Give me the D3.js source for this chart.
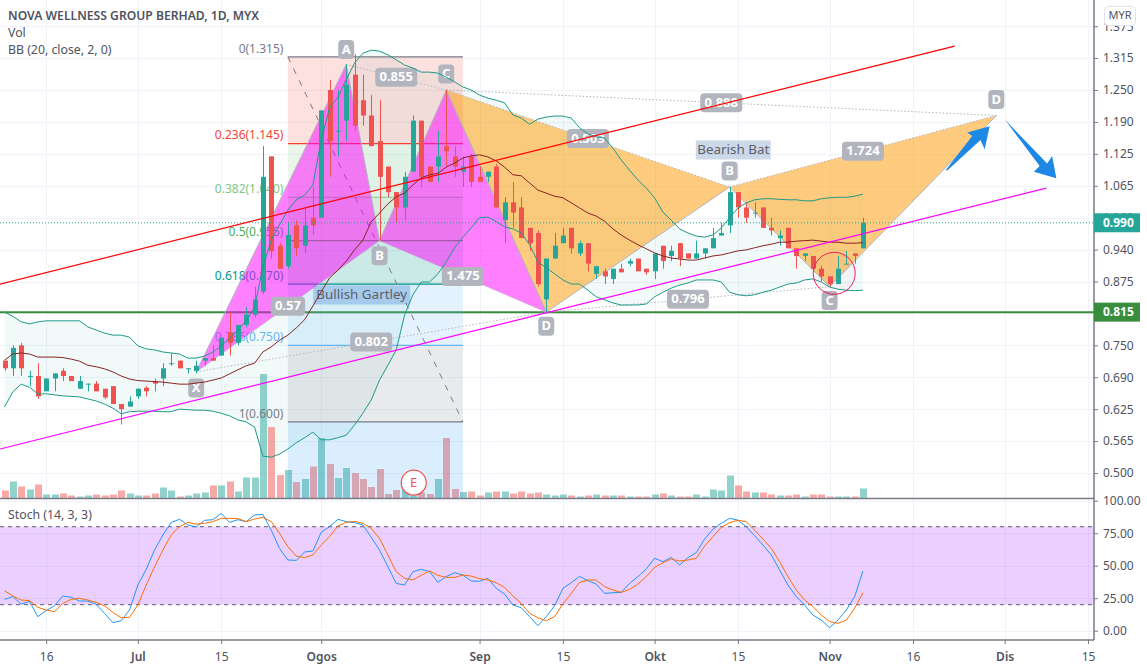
<!DOCTYPE html>
<html>
<head>
<meta charset="utf-8">
<script src="https://cdn.jsdelivr.net/npm/d3@7"></script>
<style>
  html, body { margin: 0; padding: 0; background: #fff; }
  svg { display: block; }
  text { font-family: "Noto Sans", "Open Sans", sans-serif; }
</style>
</head>
<body>
<script>
// Daily bars, one entry per trading day.
const open = [.72,.705,.75,.69,.69,.66,.685,.70,.69,.665,
  .675,.675,.665,.67,.635,.63,.65,.667,.68,.685,
  .715,.72,.705,.70,.72,.725,.73,.775,.755,.79,
  .81,.855,1.12,.945,.905,.985,.945,1.0,1.0,1.25,
  1.17,1.19,1.28,1.23,1.20,1.15,1.10,1.05,1.02,1.09,
  1.19,1.10,1.10,1.14,1.12,1.09,1.12,1.08,1.08,1.10,
  .995,1.03,1.02,.98,.97,.84,.92,.95,.98,.93,
  .95,.89,.895,.88,.90,.91,.92,.90,.895,.945,
  .925,.95,.93,.92,.93,.94,.965,.985,1.05,1.02,
  1.01,1.02,.98,.96,.98,.94,.925,.925,.90,.885,
  .87,.91,.93,.94];
const high = [.72,.75,.755,.70,.715,.685,.695,.705,.69,.69,
  .675,.68,.665,.67,.635,.65,.665,.67,.685,.715,
  .735,.72,.705,.72,.725,.75,.765,.815,.79,.825,
  .865,1.14,1.12,.95,.99,.995,1.02,1.06,1.21,1.27,
  1.25,1.30,1.32,1.28,1.24,1.23,1.10,1.05,1.09,1.20,
  1.19,1.10,1.17,1.25,1.14,1.12,1.125,1.10,1.09,1.105,
  1.04,1.07,1.04,.98,.975,.92,.97,.98,.98,.955,
  .95,.905,.90,.90,.91,.92,.92,.90,.93,.945,
  .945,.95,.93,.955,.94,.98,.99,1.06,1.05,1.03,
  1.03,1.02,1.0,.975,.98,.94,.93,.925,.905,.885,
  .925,.935,.93,1.0];
const low = [.70,.69,.69,.67,.645,.66,.66,.68,.68,.665,
  .66,.66,.645,.635,.595,.63,.645,.65,.66,.67,
  .71,.705,.695,.695,.71,.72,.73,.73,.75,.785,
  .805,.85,.92,.90,.90,.925,.93,.966,1.0,1.08,
  1.12,1.15,1.17,1.18,1.14,.955,1.04,.99,.995,1.09,
  1.06,1.07,1.07,1.10,1.08,1.06,1.06,1.07,1.07,1.02,
  .95,.98,.96,.935,.865,.815,.92,.95,.93,.925,
  .895,.88,.87,.87,.893,.905,.895,.888,.88,.90,
  .915,.905,.92,.92,.92,.94,.965,.97,1.0,.99,
  1.0,.98,.965,.945,.94,.90,.915,.90,.875,.865,
  .87,.91,.91,.94];
const close = [.705,.745,.705,.69,.65,.685,.695,.69,.68,.68,
  .675,.66,.648,.635,.625,.64,.665,.66,.675,.705,
  .715,.705,.705,.71,.725,.72,.765,.755,.79,.81,
  .84,1.08,.934,.90,.966,.94,.985,.985,1.21,1.15,
  1.17,1.26,1.18,1.20,1.14,1.08,1.05,1.02,1.08,1.19,
  1.08,1.07,1.12,1.13,1.10,1.10,1.07,1.07,1.09,1.02,
  1.03,1.01,.96,.95,.87,.92,.945,.965,.94,.95,
  .91,.905,.885,.90,.893,.915,.895,.893,.93,.915,
  .935,.92,.92,.93,.94,.96,.97,1.05,1.02,1.0,
  1.01,.98,.975,.965,.94,.925,.93,.90,.885,.87,
  .90,.91,.925,.99];
const volume = [8,17,12,9,14,4,4,5,3,2,
  3,4,3,4,8,5,3,3,5,11,
  8,2,3,5,6,13,13,17,7,21,
  21,124.5,71.5,23.5,28.5,16.5,19.5,32,60.5,34.5,
  20.5,30.5,25.5,19.5,11.5,29.5,4.5,8.5,10,3,
  6,4.5,19.5,60.5,9.5,6.5,7,3,6,7,
  7,5,7,5,6,4,3,4,3,2,
  3,4,3,3,3,2,2,2,4,5,
  3,2,2,4,2,9,8,23,13,7,
  6,6,4,3,3,4,2,4,4,2,
  2,2,2,10];

// Bollinger bands (20, close, 2, 0)
const bbUpper = [.815,.807,.796,.792,.796,.798,.798,.798,.798,.798,
  .786,.780,.774,.770,.770,.766,.749,.743,.741,.737,
  .735,.733,.725,.725,.729,.737,.749,.764,.780,.798,
  .825,.902,.956,.986,1.015,1.035,1.044,1.064,1.152,1.215,
  1.236,1.270,1.303,1.322,1.328,1.326,1.319,1.309,1.299,1.293,
  1.285,1.285,1.283,1.275,1.266,1.256,1.250,1.240,1.234,1.230,
  1.225,1.201,1.195,1.183,1.193,1.197,1.199,1.199,1.195,1.176,
  1.164,1.158,1.156,1.136,1.113,1.093,1.074,1.058,1.039,1.011,
  .995,.978,.970,.964,.962,.966,.980,1.0,1.019,1.029,
  1.035,1.037,1.037,1.036,1.035,1.035,1.033,1.033,1.037,1.039,
  1.040,1.040,1.042,1.046];
const bbBasis = [.721,.733,.735,.733,.727,.727,.727,.726,.723,.719,
  .711,.708,.704,.698,.690,.684,.681,.680,.679,.678,
  .676,.674,.674,.676,.678,.682,.686,.694,.702,.710,
  .715,.737,.747,.760,.770,.784,.800,.827,.855,.882,
  .897,.915,.937,.956,.992,1.009,1.027,1.041,1.048,1.064,
  1.078,1.084,1.087,1.099,1.107,1.117,1.121,1.123,1.119,1.111,
  1.099,1.084,1.082,1.068,1.054,1.048,1.042,1.039,1.029,1.019,
  1.009,1.003,.993,.978,.966,.956,.947,.939,.931,.925,
  .921,.919,.917,.917,.921,.925,.927,.931,.935,.937,
  .941,.945,.948,.952,.952,.954,.955,.956,.954,.952,
  .952,.950,.950,.951];
const bbLower = [.629,.659,.674,.668,.655,.655,.653,.651,.650,.649,
  .645,.641,.635,.627,.616,.620,.621,.621,.621,.620,
  .620,.625,.624,.623,.623,.621,.617,.612,.604,.600,
  .590,.533,.531,.537,.547,.559,.569,.580,.565,.565,
  .569,.574,.594,.617,.643,.682,.711,.741,.809,.849,
  .874,.874,.890,.913,.941,.962,.980,1.0,1.001,.992,
  .982,.978,.970,.947,.913,.902,.890,.878,.870,.870,
  .858,.845,.839,.833,.829,.829,.829,.831,.845,.854,
  .862,.868,.872,.878,.878,.878,.874,.854,.849,.847,
  .849,.854,.858,.864,.870,.872,.878,.880,.874,.864,
  .860,.858,.857,.858];

// Stoch (14, 3, 3)
const stochK = [24.1,26.2,20.5,22.6,10.8,15.4,19.2,26.7,25.7,22.8,
  22.8,20.3,13.4,6.2,7.7,15.9,35.1,47.2,62,73.6,
  83.3,85.7,81.3,79.8,84.9,85.4,90.3,83.3,85.4,83.9,
  89,89.5,77.4,63.3,54.4,54.1,60.5,61.3,75.7,80,
  85.7,83.9,83.1,81.3,71.8,62,49.2,36.4,35.1,45.4,
  47.2,45.4,37.2,41.6,44.6,42.8,38.2,38,40.3,32.6,
  28.2,19.8,17.7,10.8,3.9,10.8,19.2,32.6,36.9,41.8,
  38.5,35.9,28.7,29.2,29.5,36.4,41.6,47.4,55.7,53.1,
  56.4,50.5,56.2,60,70.5,78,82.6,86.4,85.1,80,
  73.1,65.9,58.2,46.7,35.1,26.2,19.8,12,8.2,2.3,
  8.2,15.9,26.2,45.9];
const stochD = [30.8,26.7,23.6,23.1,18,15.9,14.6,21,24.1,24.9,
  23.6,21.8,19.2,14.1,10,10.3,19.8,35.1,49.2,62,
  73.6,80,83.3,82,82.6,83.9,86.4,86.4,86.2,83.9,
  85.9,87.2,83.9,74.9,64.6,57.4,56.2,58.2,65.9,72.3,
  80.5,83.3,84.1,82.6,78.7,71,58.2,45.4,40.3,39,
  42.6,45.9,42.6,41,41,42.8,42,40,39,36.9,
  33.3,26.7,21,13.4,10,7.7,10.8,20.5,28.7,37.2,
  39,39,33.9,31.3,29.5,31.8,35.9,41.6,48.7,52.3,
  55.1,53.6,54.4,55.7,65.1,72.3,79.5,83.1,84.9,83.9,
  77.4,70.5,63.3,53.1,41.6,31.3,23.6,18.5,12,7,
  5.7,8.2,17.2,29.2];

// Axis ticks. The labels are rounded to the 0.005 tick, the grid is not.
const timeTicks = [5,16,26,38,57,67,78,88,99,109,120,130];
const timeLabels = ["16","Jul","15","Ogos","Sep","15","Okt","15","Nov","16","Dis","15"];
const monthLabels = ["Jul","Ogos","Sep","Okt","Nov","Dis"];
const priceTicks = [1.375,1.3125,1.25,1.1875,1.125,1.0625,1,.9375,.875,.8125,.75,.6875,.625,.5625,.5];
const priceLabels = ["1.375","1.315","1.250","1.190","1.125","1.065","1.000","0.940","0.875","0.815","0.750","0.690","0.625","0.565","0.500"];
const stochTicks = [100,75,50,25,0];
const stochLabels = ["100.00","75.00","50.00","25.00","0.00"];

// Fib retracement
const fibStart = 34, fibEnd = 55;
const fibLevels = ["0","0.236","0.382","0.5","0.618","0.786","1"];
const fibPrices = [1.315,1.145,1.040,.955,.870,.750,.600];
const fibLabelPrices = ["1.315","1.145","1.040","0.955","0.870","0.750","0.600"];
const fibLineColors = ["#787b86","#f44336","#81c784","#4caf50","#009688","#64b5f6","#787b86"];
const fibFills = ["rgba(244,67,54,.16)","rgba(129,199,132,.16)","rgba(76,175,80,.16)","rgba(0,150,136,.16)","rgba(100,181,246,.18)","rgba(120,123,134,.16)"];

// Harmonic patterns: bar index and price of each point.
// The bat's X and A sit on the gartley's C and D and carry no letter of their own.
const gartleyNames = ["X","A","B","C","D"];
const gartleyBars = [23,41,45,53,65];
const gartleyPrices = [.698,1.30,.955,1.25,.815];
const gartleyRatios = ["0.57","0.855","1.475","0.802"];
const batNames = ["","","B","C","D"];
const batBars = [53,65,87,99,119];
const batPrices = [1.25,.815,1.06,.865,1.20];
const batRatios = ["0.503","0.796","1.724","0.888"];

// Trend lines and arrows
const redLineBars = [-.54,114], redLinePrices = [.870,1.336];
const pinkLineBars = [-.54,125], pinkLinePrices = [.547,1.058];
const supportPrice = .815;
const lastPrice = .990;
const arrowUpBars = [112.92,116.11,115.5,118.2,117.6,117.1,113.15];
const arrowUpPrices = [1.093,1.160,1.167,1.179,1.134,1.152,1.093];
const arrowDownBars = [120.03,125.1,125.7,126.2,123.5,124.2];
const arrowDownPrices = [1.192,1.106,1.121,1.077,1.090,1.101];

const width = 1147, height = 669;
const plotRight = 1094;
const volBottom = 498.5, axisY = 640;
const upColor = "#26a69a", downColor = "#ef5350";
const gridColor = "#f0f3fa", axisColor = "#787b86", textColor = "#50535e";
const pillColor = "#b2b5be";

const x = d3.scaleLinear().domain([0, 130]).range([4.5, 1088]);
const y = d3.scaleLinear().domain([.5, 1.25]).range([473, 90]);
const yVol = d3.scaleLinear().domain([0, 124.5]).range([volBottom, 374]);
const yStoch = d3.scaleLinear().domain([0, 100]).range([630.7, 500.7]);

const bars = d3.range(open.length);
const snap = i => Math.round(x(i));

const svg = d3.select("body").append("svg")
    .attr("width", width)
    .attr("height", height);

svg.append("defs").append("clipPath").attr("id", "plot")
    .append("rect").attr("width", plotRight).attr("height", volBottom);

// Grid
const grid = svg.append("g");
grid.selectAll(".gx").data(timeTicks).join("line")
    .attr("x1", d => snap(d) + .5).attr("x2", d => snap(d) + .5)
    .attr("y1", 0).attr("y2", axisY)
    .attr("stroke", gridColor);
grid.selectAll(".gy").data(priceTicks).join("line")
    .attr("x1", 0).attr("x2", plotRight)
    .attr("y1", d => Math.round(y(d)) + .5).attr("y2", d => Math.round(y(d)) + .5)
    .attr("stroke", gridColor);
grid.selectAll(".gs").data(stochTicks).join("line")
    .attr("x1", 0).attr("x2", plotRight)
    .attr("y1", d => Math.round(yStoch(d)) + .5).attr("y2", d => Math.round(yStoch(d)) + .5)
    .attr("stroke", gridColor);

const main = svg.append("g").attr("clip-path", "url(#plot)");

// Bollinger fill goes under everything else
main.append("path")
    .attr("d", d3.area().x(i => x(i)).y0(i => y(bbLower[i])).y1(i => y(bbUpper[i]))(bars))
    .attr("fill", "rgba(38,166,154,.06)");

// Volume
main.selectAll(".vol").data(bars).join("rect")
    .attr("x", i => snap(i) - 3)
    .attr("y", i => yVol(volume[i]))
    .attr("width", 7)
    .attr("height", i => volBottom - yVol(volume[i]))
    .attr("fill", i => close[i] >= open[i] ? upColor : downColor)
    .attr("opacity", .5);

// Support line sits under the drawings
main.append("line")
    .attr("x1", 0).attr("x2", plotRight)
    .attr("y1", y(supportPrice)).attr("y2", y(supportPrice))
    .attr("stroke", "#388e3c").attr("stroke-width", 2);

// Fib retracement
const fib = main.append("g");
fibFills.forEach((c, k) => {
    fib.append("rect")
        .attr("x", x(fibStart)).attr("width", x(fibEnd) - x(fibStart))
        .attr("y", y(fibPrices[k])).attr("height", y(fibPrices[k + 1]) - y(fibPrices[k]))
        .attr("fill", c);
});
fib.append("rect")
    .attr("x", x(fibStart)).attr("width", x(fibEnd) - x(fibStart))
    .attr("y", y(fibPrices[6])).attr("height", volBottom - y(fibPrices[6]))
    .attr("fill", "rgba(33,150,243,.16)");
fibPrices.forEach((p, k) => {
    fib.append("line")
        .attr("x1", x(fibStart)).attr("x2", x(fibEnd))
        .attr("y1", y(p)).attr("y2", y(p))
        .attr("stroke", fibLineColors[k]).attr("stroke-width", 1.2);
    fib.append("text")
        .attr("x", x(fibStart) - 4.5).attr("y", y(p) - 7.5)
        .attr("text-anchor", "end").attr("dominant-baseline", "middle")
        .attr("font-size", 12).attr("fill", fibLineColors[k])
        .text(fibLevels[k] + "(" + fibLabelPrices[k] + ")");
});
fib.append("line")
    .attr("x1", x(fibStart)).attr("x2", x(fibEnd))
    .attr("y1", y(fibPrices[0])).attr("y2", y(fibPrices[6]))
    .attr("stroke", axisColor).attr("stroke-dasharray", "6,7");

function pill(parent, px, py, label) {
    let w = Math.max(16, label.length * 7.6 + 4);
    parent.append("rect")
        .attr("x", px - w / 2).attr("y", py - 9.5)
        .attr("width", w).attr("height", 19).attr("rx", 4)
        .attr("fill", pillColor);
    parent.append("text")
        .attr("x", px).attr("y", py + .5)
        .attr("text-anchor", "middle").attr("dominant-baseline", "middle")
        .attr("font-size", 13).attr("font-weight", 700).attr("fill", "#fff")
        .text(label);
}

// Draws the XAB and BCD triangles plus the ratio lines and their labels.
function harmonic(bs, ps, names, ratios, fill, letterOffsets) {
    const g = main.append("g");
    const pt = k => [x(bs[k]), y(ps[k])];
    const line = d3.line();
    [[0, 1, 2], [2, 3, 4]].forEach(t => {
        g.append("path").attr("d", line(t.map(pt)) + "Z").attr("fill", fill);
    });
    g.append("path").attr("d", line([0, 1, 2, 3, 4].map(pt)))
        .attr("fill", "none").attr("stroke", pillColor);
    const ratioLines = [[0, 2], [1, 3], [2, 4], [0, 4]];
    ratioLines.forEach(s => {
        let a = pt(s[0]), b = pt(s[1]);
        g.append("line")
            .attr("x1", a[0]).attr("y1", a[1]).attr("x2", b[0]).attr("y2", b[1])
            .attr("stroke", pillColor).attr("stroke-dasharray", "1.5,2");
    });
    ratioLines.forEach((s, k) => {
        let a = pt(s[0]), b = pt(s[1]);
        pill(g, (a[0] + b[0]) / 2, (a[1] + b[1]) / 2, ratios[k]);
    });
    names.forEach((n, k) => {
        if (n == "") return;
        let p = pt(k);
        pill(g, p[0], p[1] + letterOffsets[k], n);
    });
}

harmonic(gartleyBars, gartleyPrices, gartleyNames, gartleyRatios, "rgba(255,0,255,.5)", [16, -15, 15, -16, 14]);
harmonic(batBars, batPrices, batNames, batRatios, "rgba(255,152,0,.5)", [0, 0, -16, 14, -16]);

// Pattern names
function tagText(px, py, w, label, bg) {
    main.append("rect")
        .attr("x", px - w / 2).attr("y", py - 9.5).attr("width", w).attr("height", 19)
        .attr("fill", bg);
    main.append("text")
        .attr("x", px).attr("y", py)
        .attr("text-anchor", "middle").attr("dominant-baseline", "middle")
        .attr("font-size", 13.4).attr("fill", "#5d606b")
        .text(label);
}
tagText(x(42.86), y(.8486), 97, "Bullish Gartley", "rgba(33,110,200,.28)");
tagText(x(87.44), y(1.1325), 75, "Bearish Bat", "rgba(60,110,170,.26)");

// Earnings marker
const earnX = x(49.1), earnY = yVol(15.8);
main.append("circle")
    .attr("cx", earnX).attr("cy", earnY).attr("r", 12.5)
    .attr("fill", "#fff").attr("stroke", "#ef5350").attr("stroke-width", 1.2);
main.append("text")
    .attr("x", earnX).attr("y", earnY + .5)
    .attr("text-anchor", "middle").attr("dominant-baseline", "middle")
    .attr("font-size", 13).attr("fill", "#ef5350")
    .text("E");

// Candles
const candles = main.append("g");
candles.selectAll(".wick").data(bars).join("line")
    .attr("x1", i => snap(i) + .5).attr("x2", i => snap(i) + .5)
    .attr("y1", i => y(high[i])).attr("y2", i => y(low[i]))
    .attr("stroke", i => close[i] >= open[i] ? upColor : downColor);
candles.selectAll(".body").data(bars).join("rect")
    .attr("x", i => snap(i) - 2)
    .attr("width", 5)
    .attr("y", i => y(Math.max(open[i], close[i])))
    .attr("height", i => Math.max(1, Math.abs(y(open[i]) - y(close[i]))))
    .attr("fill", i => close[i] >= open[i] ? upColor : downColor);

// Bollinger lines
const bbLine = series => d3.line().x(i => x(i)).y(i => y(series[i]))(bars);
main.append("path").attr("d", bbLine(bbUpper)).attr("fill", "none").attr("stroke", "#1e9988");
main.append("path").attr("d", bbLine(bbLower)).attr("fill", "none").attr("stroke", "#1e9988");
main.append("path").attr("d", bbLine(bbBasis)).attr("fill", "none").attr("stroke", "#872323");

// Last price dotted line
main.append("line")
    .attr("x1", 0).attr("x2", plotRight)
    .attr("y1", y(lastPrice)).attr("y2", y(lastPrice))
    .attr("stroke", upColor).attr("stroke-dasharray", "1,2");

// Trend lines
main.append("line")
    .attr("x1", x(redLineBars[0])).attr("x2", x(redLineBars[1]))
    .attr("y1", y(redLinePrices[0])).attr("y2", y(redLinePrices[1]))
    .attr("stroke", "#ff0000").attr("stroke-width", 1.2);
main.append("line")
    .attr("x1", x(pinkLineBars[0])).attr("x2", x(pinkLineBars[1]))
    .attr("y1", y(pinkLinePrices[0])).attr("y2", y(pinkLinePrices[1]))
    .attr("stroke", "#ff00ff").attr("stroke-width", 1.2);

// Circle around the bat's C
main.append("circle")
    .attr("cx", x(99.55)).attr("cy", y(.891)).attr("r", 21)
    .attr("fill", "rgba(233,30,99,.03)").attr("stroke", "#e91e63");

// Arrows
function arrow(bs, ps) {
    main.append("path")
        .attr("d", d3.line()(bs.map((b, k) => [x(b), y(ps[k])])) + "Z")
        .attr("fill", "#1e88e5");
}
arrow(arrowUpBars, arrowUpPrices);
arrow(arrowDownBars, arrowDownPrices);

// Stochastic pane
const stoch = svg.append("g");
stoch.append("rect")
    .attr("x", 0).attr("width", plotRight)
    .attr("y", yStoch(80)).attr("height", yStoch(20) - yStoch(80))
    .attr("fill", "rgba(153,21,255,.2)");
[80, 20].forEach(v => {
    stoch.append("line")
        .attr("x1", 0).attr("x2", plotRight)
        .attr("y1", yStoch(v)).attr("y2", yStoch(v))
        .attr("stroke", "#5d5a70").attr("stroke-dasharray", "4,4");
});
const stochLine = series => d3.line().x(i => x(i)).y(i => yStoch(series[i]))(bars);
stoch.append("path").attr("d", stochLine(stochK)).attr("fill", "none").attr("stroke", "#2196f3");
stoch.append("path").attr("d", stochLine(stochD)).attr("fill", "none").attr("stroke", "#ff6d00");

// Pane separator and axes
svg.append("line")
    .attr("x1", 0).attr("x2", plotRight).attr("y1", volBottom).attr("y2", volBottom)
    .attr("stroke", axisColor).attr("stroke-width", 1.5);

const xAxis = d3.axisBottom(x)
    .tickValues(timeTicks)
    .tickSize(4)
    .tickPadding(8)
    .tickFormat((d, k) => timeLabels[k]);
const xAxisG = svg.append("g")
    .attr("transform", "translate(0," + axisY + ")")
    .call(xAxis);
xAxisG.select(".domain").attr("d", "M0,0H" + plotRight).attr("stroke", axisColor).attr("stroke-width", 1.5);
xAxisG.selectAll("line").attr("stroke", axisColor);
xAxisG.selectAll("text")
    .attr("font-size", 12)
    .attr("font-family", null)
    .attr("fill", textColor)
    .attr("font-weight", (d, k) => monthLabels.includes(timeLabels[k]) ? 600 : 400);

function rightAxis(scale, values, labels) {
    const g = svg.append("g")
        .attr("transform", "translate(" + plotRight + ",0)")
        .call(d3.axisRight(scale)
            .tickValues(values)
            .tickSize(4)
            .tickPadding(5)
            .tickFormat((d, k) => labels[k]));
    g.select(".domain").remove();
    g.selectAll("line").attr("stroke", axisColor);
    g.selectAll("text").attr("font-size", 12).attr("font-family", null).attr("fill", textColor);
}
rightAxis(y, priceTicks, priceLabels);
rightAxis(yStoch, stochTicks, stochLabels);
svg.append("line")
    .attr("x1", plotRight).attr("x2", plotRight).attr("y1", 0).attr("y2", axisY)
    .attr("stroke", axisColor).attr("stroke-width", 1.5);

// Price tags on the axis
function priceTag(price, label, color) {
    svg.append("rect")
        .attr("x", plotRight).attr("y", y(price) - 9.5)
        .attr("width", 46).attr("height", 19)
        .attr("fill", color);
    svg.append("text")
        .attr("x", plotRight + 9).attr("y", y(price) + .5)
        .attr("dominant-baseline", "middle")
        .attr("font-size", 12).attr("font-weight", 700).attr("fill", "#fff")
        .text(label);
}
priceTag(lastPrice, "0.990", upColor);
priceTag(supportPrice, "0.815", "#388e3c");

// Currency button
svg.append("rect")
    .attr("x", 1104.5).attr("y", 6.5).attr("width", 31).attr("height", 19).attr("rx", 4)
    .attr("fill", "#fff").attr("stroke", "#e0e3eb");
svg.append("text")
    .attr("x", 1120).attr("y", 16)
    .attr("text-anchor", "middle").attr("dominant-baseline", "middle")
    .attr("font-size", 11).attr("fill", textColor)
    .text("MYR");

// Legends
function legend(py, label, size, weight) {
    svg.append("text")
        .attr("x", 8).attr("y", py)
        .attr("dominant-baseline", "middle")
        .attr("font-size", size).attr("font-weight", weight).attr("fill", "#50535e")
        .text(label);
}
legend(16.5, "NOVA WELLNESS GROUP BERHAD, 1D, MYX", 12.15, 600);
legend(33.5, "Vol", 12.3, 400);
legend(50.5, "BB (20, close, 2, 0)", 12.3, 400);
legend(515.5, "Stoch (14, 3, 3)", 12.3, 400);
</script>
</body>
</html>
